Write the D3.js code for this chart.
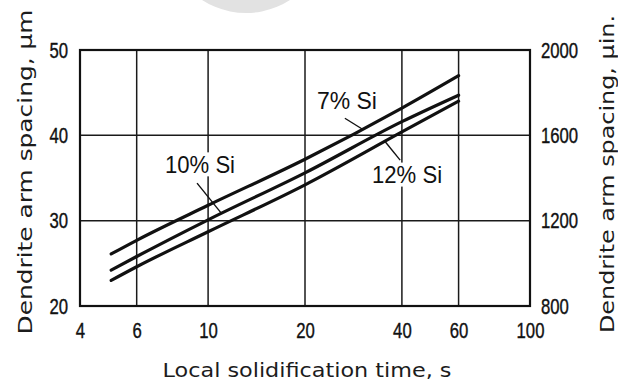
<!DOCTYPE html>
<html>
<head>
<meta charset="utf-8">
<script src="https://cdn.jsdelivr.net/npm/d3@7"></script>
<style>
  html, body { margin: 0; padding: 0; background: #fff; }
  svg { display: block; }
</style>
</head>
<body>
<svg id="chart" width="618" height="383"></svg>
<script>
// Local solidification time (s) and dendrite arm spacing (µm) for three Si contents
const times = [5, 6, 10, 20, 40, 60];
const si7  = [26.1, 27.7, 31.8, 37.2, 43.2, 47.0];
const si10 = [24.2, 25.8, 30.1, 35.6, 41.6, 44.7];
const si12 = [23.0, 24.6, 28.7, 34.2, 40.4, 44.0];
const seriesNames = ["7% Si", "10% Si", "12% Si"];

const xTicks = [4, 6, 10, 20, 40, 60, 100];
const yTicks = [20, 30, 40, 50];
const yTicksIn = [800, 1200, 1600, 2000];

const xTitle = "Local solidification time, s";
const yTitle = "Dendrite arm spacing, µm";
const yTitleRight = "Dendrite arm spacing, µin.";

const svg = d3.select("#chart");
const W = 618, H = 383;
const m = { left: 80, right: 88, top: 50, bottom: 77 };
const x0 = m.left, x1 = W - m.right, y0 = H - m.bottom, y1 = m.top;

const x = d3.scaleLog().domain([4, 100]).range([x0, x1]);
const y = d3.scaleLinear().domain([20, 50]).range([y0, y1]);
const yR = d3.scaleLinear().domain([800, 2000]).range([y0, y1]);

const numFont = "'Liberation Sans', Arial, sans-serif";
const titleFont = "'DejaVu Sans', Verdana, sans-serif";

// faint grey disc at the top edge
svg.append("circle")
  .attr("cx", 246).attr("cy", -68).attr("r", 81)
  .attr("fill", "#e2e2e2");

// grid
const grid = svg.append("g").attr("stroke", "#1a1a1a").attr("stroke-width", 1.5);
grid.selectAll("line.vx").data(xTicks.slice(1, -1)).join("line")
  .attr("x1", d => x(d)).attr("x2", d => x(d))
  .attr("y1", y1).attr("y2", y0);
grid.selectAll("line.hy").data(yTicks.slice(1, -1)).join("line")
  .attr("y1", d => y(d)).attr("y2", d => y(d))
  .attr("x1", x0).attr("x2", x1);

// frame
svg.append("rect")
  .attr("x", x0).attr("y", y1).attr("width", x1 - x0).attr("height", y0 - y1)
  .attr("fill", "none").attr("stroke", "#111").attr("stroke-width", 2.2);

// condensed tick labels
const SX = 0.76;
function condense(sel) {
  sel.selectAll(".tick text").each(function () {
    const t = d3.select(this);
    const tx = +t.attr("x") || 0;
    t.attr("x", 0).attr("transform", `translate(${tx},0) scale(${SX},1)`);
  });
}
function styleAxis(g) {
  g.attr("font-family", null).attr("font-size", null);
  g.select(".domain").remove();
  g.selectAll(".tick line").remove();
  g.selectAll(".tick text")
    .style("font-family", numFont)
    .style("font-size", "22px")
    .style("fill", "#111")
    .style("stroke", "#111").style("stroke-width", 0.4);
}

const gx = svg.append("g").attr("transform", `translate(0,${y0})`)
  .call(d3.axisBottom(x).tickValues(xTicks).tickFormat(d3.format("d")).tickSize(0).tickPadding(16));
styleAxis(gx); condense(gx);

const gy = svg.append("g").attr("transform", `translate(${x0},0)`)
  .call(d3.axisLeft(y).tickValues(yTicks).tickFormat(d3.format("d")).tickSize(0).tickPadding(12));
styleAxis(gy); condense(gy);

const gyR = svg.append("g").attr("transform", `translate(${x1},0)`)
  .call(d3.axisRight(yR).tickValues(yTicksIn).tickFormat(d3.format("d")).tickSize(0).tickPadding(11));
styleAxis(gyR); condense(gyR);

// curves
const allSeries = [si7, si10, si12];
const line = d3.line()
  .x((d, i) => x(times[i]))
  .y(d => y(d))
  .curve(d3.curveMonotoneX);

svg.append("g").selectAll("path").data(allSeries).join("path")
  .attr("d", d => line(d))
  .attr("fill", "none").attr("stroke", "#111")
  .attr("stroke-width", 3.2).attr("stroke-linecap", "round");

// value of a series at time t (linear in log time)
function valueAt(vals, t) {
  const lt = Math.log10(t);
  for (let i = 0; i < times.length - 1; i++) {
    const a = Math.log10(times[i]), b = Math.log10(times[i + 1]);
    if (lt >= a && lt <= b) return vals[i] + (vals[i + 1] - vals[i]) * (lt - a) / (b - a);
  }
  return vals[vals.length - 1];
}

// series labels with leader lines
const notes = [
  { s: 0, tx: 27.0, ty: 44.1, len: 60, from: [26.6, 42.0], to: 30.1 },
  { s: 1, tx: 9.44, ty: 36.6, len: 70, from: [9.24, 34.4], to: 11.0 },
  { s: 2, tx: 41.5, ty: 35.4, len: 70, from: [39.5, 37.1], to: 35.4 }
];
const ann = svg.append("g");
notes.forEach(n => {
  const cx = x(n.tx), cy = y(n.ty);
  ann.append("rect")
    .attr("x", cx - n.len / 2 - 2).attr("y", cy - 12)
    .attr("width", n.len + 4).attr("height", 24).attr("fill", "#fff");
  ann.append("text")
    .attr("x", cx - n.len / 2).attr("y", cy)
    .attr("dy", "0.36em")
    .style("font-family", numFont)
    .style("font-size", "24px")
    .style("fill", "#111")
    .attr("textLength", n.len).attr("lengthAdjust", "spacingAndGlyphs")
    .text(seriesNames[n.s]);
  ann.append("line")
    .attr("x1", x(n.from[0])).attr("y1", y(n.from[1]))
    .attr("x2", x(n.to)).attr("y2", y(valueAt(allSeries[n.s], n.to)))
    .attr("stroke", "#111").attr("stroke-width", 1.4);
});

// axis titles
function title(sel, len) {
  sel.attr("text-anchor", "middle")
    .style("font-family", titleFont)
    .style("font-size", "19px")
    .style("fill", "#1c1c1c")
    .attr("textLength", len).attr("lengthAdjust", "spacingAndGlyphs");
}
svg.append("text")
  .attr("x", 307).attr("y", 377)
  .call(title, 289)
  .text(xTitle);

svg.append("text")
  .attr("transform", "translate(32,172) rotate(-90)")
  .call(title, 325)
  .text(yTitle);

svg.append("text")
  .attr("transform", "translate(614,174) rotate(-90)")
  .call(title, 318)
  .text(yTitleRight);
</script>
</body>
</html>
